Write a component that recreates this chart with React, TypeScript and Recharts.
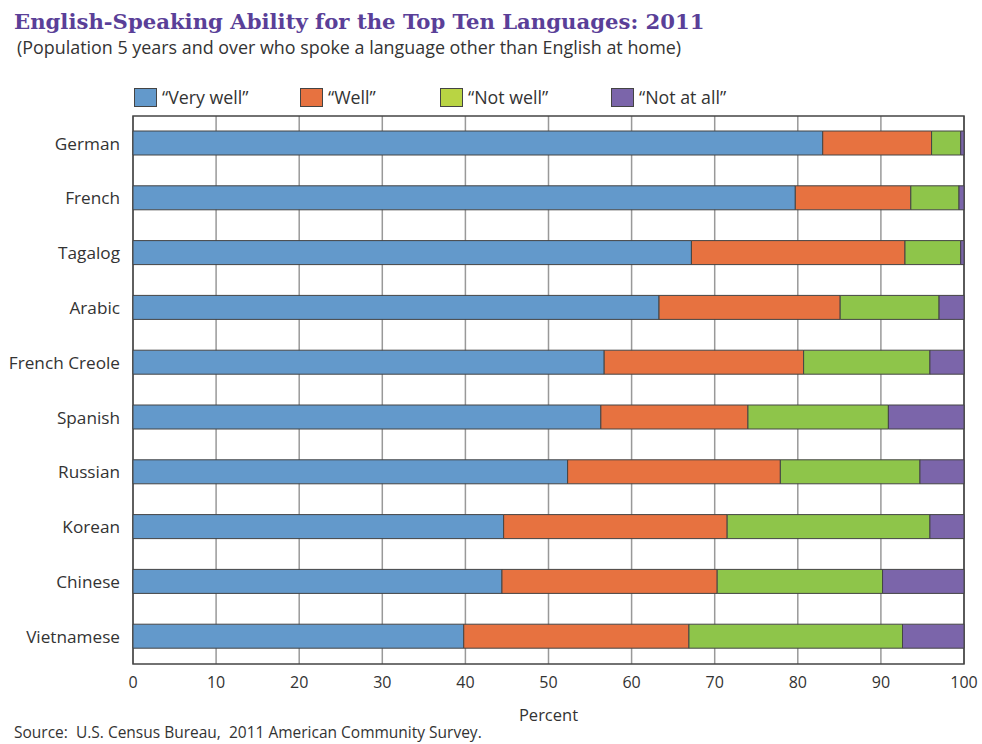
import React from "react";
import { BarChart, Bar, XAxis, YAxis, CartesianGrid, ReferenceArea } from "recharts";

const languages = ["German", "French", "Tagalog", "Arabic", "French Creole", "Spanish", "Russian", "Korean", "Chinese", "Vietnamese"];
const veryWell = [83.0, 79.7, 67.2, 63.3, 56.7, 56.3, 52.3, 44.6, 44.4, 39.8];
const well = [13.1, 13.9, 25.7, 21.8, 24.0, 17.7, 25.6, 26.9, 25.9, 27.1];
const notWell = [3.5, 5.8, 6.7, 11.9, 15.2, 16.9, 16.8, 24.4, 19.9, 25.7];
const notAtAll = [0.4, 0.6, 0.4, 3.0, 4.1, 9.1, 5.3, 4.1, 9.8, 7.4];
const xTicks = [0, 10, 20, 30, 40, 50, 60, 70, 80, 90, 100];

const seriesKeys = ["veryWell", "well", "notWell", "notAtAll"];
const seriesLabels = ["\u201CVery well\u201D", "\u201CWell\u201D", "\u201CNot well\u201D", "\u201CNot at all\u201D"];
const seriesColors = ["#6399cb", "#e77240", "#8ec54a", "#7b65aa"];
const legendColors = ["#6399cb", "#e77240", "#b9d443", "#7b65aa"];
const legendWidths = [166, 140, 171, 150];

const data = languages.map((lang, i) => ({
  lang,
  veryWell: veryWell[i],
  well: well[i],
  notWell: notWell[i],
  notAtAll: notAtAll[i],
}));

const FONT = "'Open Sans', 'DejaVu Sans', sans-serif";

export default function App() {
  return (
    <div style={{ position: "absolute", left: 0, top: 0, width: 982, height: 744, background: "#fff", fontFamily: FONT }}>
      <div style={{ position: "absolute", left: 14, top: 9, fontFamily: "'DejaVu Serif', serif", fontWeight: "bold", fontSize: 21.2, color: "#5a3f98", whiteSpace: "nowrap" }}>
        English-Speaking Ability for the Top Ten Languages: 2011
      </div>
      <div style={{ position: "absolute", left: 17, top: 35, fontSize: 17.9, color: "#333", whiteSpace: "nowrap" }}>
        (Population 5 years and over who spoke a language other than English at home)
      </div>
      <div style={{ position: "absolute", left: 134, top: 85, display: "flex", alignItems: "center" }}>
        {seriesLabels.map((lab, i) => (
          <div key={lab} style={{ width: legendWidths[i], display: "flex", alignItems: "center" }}>
            <div style={{ width: 23, height: 19, background: legendColors[i], border: "1px solid #444", boxSizing: "border-box" }} />
            <span style={{ marginLeft: 5, fontSize: 17.8, color: "#333" }}>{lab}</span>
          </div>
        ))}
      </div>
      <div style={{ position: "absolute", left: 0, top: 0 }}>
        <BarChart
          width={982}
          height={744}
          data={data}
          layout="vertical"
          margin={{ top: 116, right: 18, bottom: 20, left: 0 }}
          barSize={24}
        >
          <CartesianGrid horizontal={false} stroke="#999" strokeWidth={1.5} />
          <XAxis
            type="number"
            domain={[0, 100]}
            ticks={xTicks}
            interval={0}
            axisLine={false}
            tickLine={false}
            tickSize={0}
            tickMargin={13}
            height={60}
            tick={{ fontSize: 16, fill: "#333", fontFamily: FONT }}
            label={{ value: "Percent", position: "insideBottom", offset: 3, fontSize: 16.5, fill: "#333", fontFamily: FONT }}
          />
          <YAxis
            type="category"
            dataKey="lang"
            width={133}
            axisLine={false}
            tickLine={false}
            tickSize={0}
            tickMargin={13}
            tick={{ fontSize: 17.2, fill: "#333", fontFamily: FONT }}
          />
          {seriesKeys.map((k, i) => (
            <Bar
              key={k}
              dataKey={k}
              stackId="a"
              fill={seriesColors[i]}
              stroke="#444"
              strokeWidth={1}
              isAnimationActive={false}
            />
          ))}
          <ReferenceArea x1={0} x2={100} fill="none" stroke="#444" strokeWidth={1.5} ifOverflow="visible" />
        </BarChart>
      </div>
      <div style={{ position: "absolute", left: 14, top: 723, fontSize: 15.5, lineHeight: "18px", color: "#333", whiteSpace: "pre" }}>
        Source:  U.S. Census Bureau,  2011 American Community Survey.
      </div>
    </div>
  );
}
